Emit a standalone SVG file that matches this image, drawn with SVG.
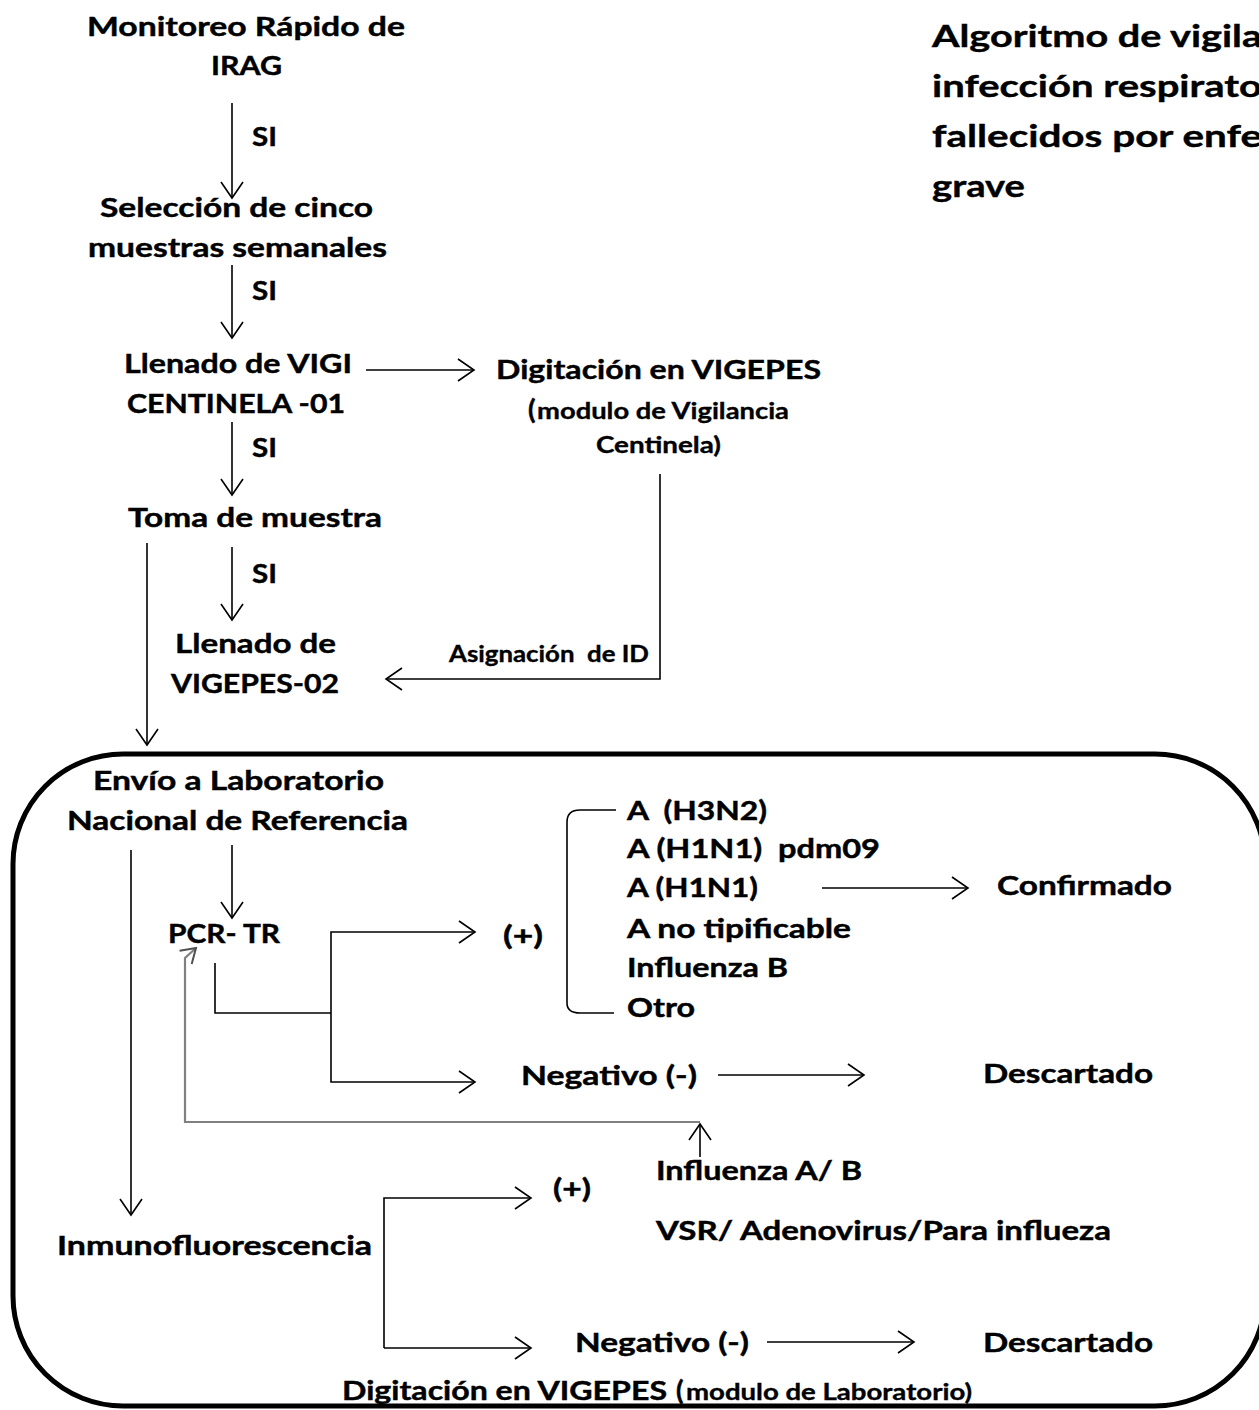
<svg xmlns="http://www.w3.org/2000/svg" width="1259" height="1410" viewBox="0 0 1259 1410">
<style>
text{font-family:Lato,"Open Sans","Liberation Sans",sans-serif;font-weight:bold;fill:#000;stroke:#000;stroke-width:0.45px;white-space:pre}
.m{font-size:27.5px}
.s{font-size:22px;stroke-width:0.35px}
.t{font-size:31px;stroke-width:0.4px}
.c{fill:none;stroke:#000;stroke-width:1.6}
.g{fill:none;stroke:#808080;stroke-width:2.2}
</style>
<defs>
<marker id="a" markerUnits="userSpaceOnUse" viewBox="-18 -13 20 26" markerWidth="20" markerHeight="26" refX="0" refY="0" orient="auto">
<path d="M-16,-11 L0,0 L-16,11" fill="none" stroke="#000" stroke-width="1.6"/>
</marker>
<marker id="ag" markerUnits="userSpaceOnUse" viewBox="-18 -13 20 26" markerWidth="20" markerHeight="26" refX="0" refY="0" orient="auto">
<path d="M-14,-9 L0,0 L-14,9" fill="none" stroke="#505050" stroke-width="2"/>
</marker>
</defs>
<rect width="1259" height="1410" fill="#fff"/>
<rect id="lab-box" x="13" y="754" width="1252" height="652" rx="110" ry="110" fill="none" stroke="#000" stroke-width="5"/>
<g id="title"><text class="t" x="932" y="47" textLength="330" lengthAdjust="spacingAndGlyphs">Algoritmo de vigila</text><text class="t" x="932" y="97" textLength="330" lengthAdjust="spacingAndGlyphs">infección respirato</text><text class="t" x="932" y="147" textLength="330" lengthAdjust="spacingAndGlyphs">fallecidos por enfe</text><text class="t" x="932" y="197" textLength="93" lengthAdjust="spacingAndGlyphs">grave</text></g>
<g id="connectors">
<path class="c" d="M232,103 V198" marker-end="url(#a)"/>
<path class="c" d="M232,265 V338" marker-end="url(#a)"/>
<path class="c" d="M366,370 H474" marker-end="url(#a)"/>
<path class="c" d="M232,422 V495" marker-end="url(#a)"/>
<path class="c" d="M232,547 V620" marker-end="url(#a)"/>
<path class="c" d="M147,543 V745" marker-end="url(#a)"/>
<path class="c" d="M660,474 V679 H386" marker-end="url(#a)"/>
<path class="c" d="M131,850 V1215" marker-end="url(#a)"/>
<path class="c" d="M232,845 V918" marker-end="url(#a)"/>
<path class="c" d="M215,963 V1013 H331"/>
<path class="c" d="M331,1013 V932 H475" marker-end="url(#a)"/>
<path class="c" d="M331,1013 V1082 H475" marker-end="url(#a)"/>
<path class="c" d="M616,810 H580 Q567,810 567,822 V1003 Q567,1013 580,1013 H614"/>
<path class="c" d="M822,888 H968" marker-end="url(#a)"/>
<path class="c" d="M718,1075 H864" marker-end="url(#a)"/>
<path class="c" d="M700,1157 V1124" marker-end="url(#a)"/>
<path class="g" d="M700,1122 H185 V958 L196,948" marker-end="url(#ag)"/>
<path class="c" d="M384,1348 V1198 H531" marker-end="url(#a)"/>
<path class="c" d="M384,1348 H531" marker-end="url(#a)"/>
<path class="c" d="M767,1342 H914" marker-end="url(#a)"/>
</g>
<g id="n-monitoreo"><text class="m" x="87" y="36" textLength="318" lengthAdjust="spacingAndGlyphs">Monitoreo Rápido de</text><text class="m" x="211" y="75" textLength="71" lengthAdjust="spacingAndGlyphs">IRAG</text></g>
<g id="l-si1"><text class="m" x="252" y="146" textLength="25" lengthAdjust="spacingAndGlyphs">SI</text></g>
<g id="n-seleccion"><text class="m" x="100" y="217" textLength="273" lengthAdjust="spacingAndGlyphs">Selección de cinco</text><text class="m" x="88" y="257" textLength="299" lengthAdjust="spacingAndGlyphs">muestras semanales</text></g>
<g id="l-si2"><text class="m" x="252" y="300" textLength="25" lengthAdjust="spacingAndGlyphs">SI</text></g>
<g id="n-llenado-vigi"><text class="m" x="124" y="373" textLength="228" lengthAdjust="spacingAndGlyphs">Llenado de VIGI</text><text class="m" x="127" y="413" textLength="218" lengthAdjust="spacingAndGlyphs">CENTINELA -01</text></g>
<g id="n-digitacion"><text class="m" x="496" y="379" textLength="325" lengthAdjust="spacingAndGlyphs">Digitación en VIGEPES</text><text class="m" x="528" y="419"><tspan>(</tspan><tspan class="s" x="537" textLength="252" lengthAdjust="spacingAndGlyphs">modulo de Vigilancia</tspan></text><text class="s" x="596" y="453" textLength="125" lengthAdjust="spacingAndGlyphs">Centinela)</text></g>
<g id="l-si3"><text class="m" x="252" y="457" textLength="25" lengthAdjust="spacingAndGlyphs">SI</text></g>
<g id="n-toma"><text class="m" x="128" y="527" textLength="254" lengthAdjust="spacingAndGlyphs">Toma de muestra</text></g>
<g id="l-si4"><text class="m" x="252" y="583" textLength="25" lengthAdjust="spacingAndGlyphs">SI</text></g>
<g id="n-llenado-vigepes"><text class="m" x="175" y="653" textLength="161" lengthAdjust="spacingAndGlyphs">Llenado de</text><text class="m" x="171" y="693" textLength="168" lengthAdjust="spacingAndGlyphs">VIGEPES-02</text></g>
<g id="l-asignacion"><text class="s" x="449" y="662" textLength="200" lengthAdjust="spacingAndGlyphs" xml:space="preserve">Asignación  de ID</text></g>
<g id="n-envio"><text class="m" x="93" y="790" textLength="291" lengthAdjust="spacingAndGlyphs">Envío a Laboratorio</text><text class="m" x="67" y="830" textLength="341" lengthAdjust="spacingAndGlyphs">Nacional de Referencia</text></g>
<g id="n-pcr"><text class="m" x="168" y="943" textLength="112" lengthAdjust="spacingAndGlyphs">PCR- TR</text></g>
<g id="n-pcr-pos"><text class="m" x="503" y="945" textLength="40" lengthAdjust="spacingAndGlyphs">(+)</text></g>
<g id="n-subtipos"><text class="m" x="627" y="820" textLength="140" lengthAdjust="spacingAndGlyphs" xml:space="preserve">A  (H3N2)</text><text class="m" x="627" y="858" textLength="253" lengthAdjust="spacingAndGlyphs" xml:space="preserve">A (H1N1)  pdm09</text><text class="m" x="627" y="897" textLength="131" lengthAdjust="spacingAndGlyphs">A (H1N1)</text><text class="m" x="627" y="938" textLength="224" lengthAdjust="spacingAndGlyphs">A no tipificable</text><text class="m" x="627" y="977" textLength="161" lengthAdjust="spacingAndGlyphs">Influenza B</text><text class="m" x="627" y="1017" textLength="68" lengthAdjust="spacingAndGlyphs">Otro</text></g>
<g id="n-confirmado"><text class="m" x="997" y="895" textLength="175" lengthAdjust="spacingAndGlyphs">Confirmado</text></g>
<g id="n-pcr-neg"><text class="m" x="521" y="1085" textLength="176" lengthAdjust="spacingAndGlyphs">Negativo (-)</text></g>
<g id="n-descartado1"><text class="m" x="983" y="1083" textLength="170" lengthAdjust="spacingAndGlyphs">Descartado</text></g>
<g id="n-influenza-ab"><text class="m" x="656" y="1180" textLength="206" lengthAdjust="spacingAndGlyphs">Influenza A/ B</text></g>
<g id="n-vsr"><text class="m" x="656" y="1240" textLength="455" lengthAdjust="spacingAndGlyphs">VSR/ Adenovirus/Para influeza</text></g>
<g id="n-if"><text class="m" x="57" y="1255" textLength="315" lengthAdjust="spacingAndGlyphs">Inmunofluorescencia</text></g>
<g id="n-if-pos"><text class="m" x="553" y="1198" textLength="38" lengthAdjust="spacingAndGlyphs">(+)</text></g>
<g id="n-if-neg"><text class="m" x="575" y="1352" textLength="174" lengthAdjust="spacingAndGlyphs">Negativo (-)</text></g>
<g id="n-descartado2"><text class="m" x="983" y="1352" textLength="170" lengthAdjust="spacingAndGlyphs">Descartado</text></g>
<g id="n-digitacion-lab"><text class="m" x="342" y="1400"><tspan textLength="325" lengthAdjust="spacingAndGlyphs">Digitación en VIGEPES</tspan><tspan x="676">(</tspan><tspan class="s" x="686" textLength="286" lengthAdjust="spacingAndGlyphs">modulo de Laboratorio)</tspan></text></g>
</svg>
